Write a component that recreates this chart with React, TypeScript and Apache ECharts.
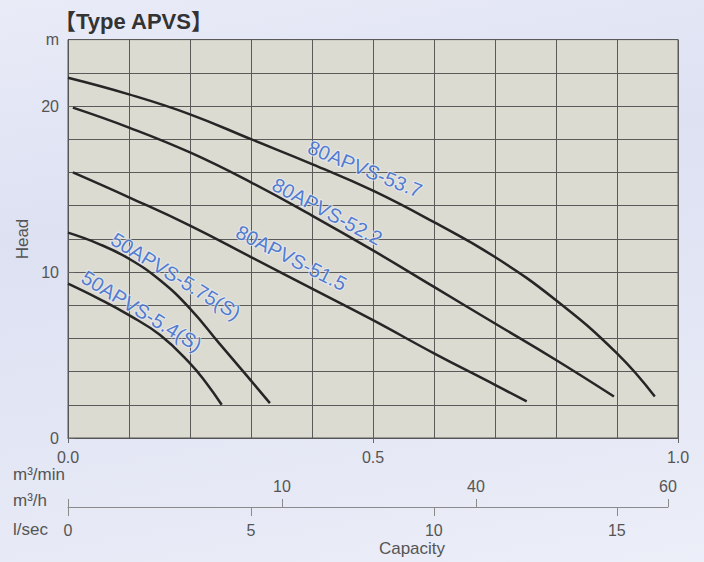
import React, { useEffect, useRef } from "react";
import * as echarts from "echarts";

// ---- data ----
const curveNames = ["80APVS-53.7", "80APVS-52.2", "80APVS-51.5", "50APVS-5.75(S)", "50APVS-5.4(S)"];

// capacity in m³/min, head in m
const flow537 = [0, 0.1, 0.2, 0.3, 0.4, 0.5, 0.6, 0.7, 0.8, 0.9, 0.962];
const head537 = [21.7, 20.7, 19.5, 18.0, 16.5, 14.9, 13.0, 10.9, 8.3, 5.1, 2.5];

const flow522 = [0.008, 0.1, 0.2, 0.3, 0.4, 0.5, 0.6, 0.7, 0.8, 0.895];
const head522 = [19.9, 18.7, 17.2, 15.4, 13.4, 11.3, 9.1, 6.9, 4.7, 2.5];

const flow515 = [0.008, 0.1, 0.2, 0.3, 0.4, 0.5, 0.6, 0.7, 0.752];
const head515 = [16.0, 14.5, 12.8, 10.9, 9.0, 7.1, 5.1, 3.2, 2.2];

const flow575 = [0, 0.05, 0.1, 0.151, 0.2, 0.248, 0.292, 0.331];
const head575 = [12.37, 11.7, 10.8, 9.5, 7.8, 5.7, 3.8, 2.1];

const flow54 = [0, 0.05, 0.1, 0.151, 0.2, 0.227, 0.252];
const head54 = [9.3, 8.4, 7.4, 6.2, 4.5, 3.3, 2.0];

const curveFlows = [flow537, flow522, flow515, flow575, flow54];
const curveHeads = [head537, head522, head515, head575, head54];

// label anchors (data coords) and their slope angles
const labelFlow = [0.487, 0.425, 0.366, 0.177, 0.121];
const labelHead = [16.2, 13.65, 10.85, 9.75, 7.65];
const labelAngle = [22, 28, 27, 31.6, 31.3];

// axes
const flowLabelTicks = [0, 0.5, 1.0]; // m³/min
const headLabelTicks = [0, 10, 20]; // m
const headUnitValue = 24;
const m3hTickPos = [0, 21.4, 40.8, 60];
const m3hTickText = ["", "10", "40", "60"];
const lsecTicks = [0, 5, 10, 15];

const FONT = '"Liberation Sans", Arial, Helvetica, sans-serif';

export default function App() {
  const ref = useRef<HTMLDivElement>(null);

  useEffect(() => {
    if (!ref.current) return;
    const chart = echarts.init(ref.current, undefined, { renderer: "svg" });

    const lineSeries = curveNames.map((name, i) => ({
      name,
      type: "line",
      xAxisIndex: 0,
      yAxisIndex: 0,
      data: curveFlows[i].map((f, j) => [f, curveHeads[i][j]]),
      smooth: 0.45,
      showSymbol: false,
      symbol: "none",
      lineStyle: { color: "#262626", width: 2.5 },
      silent: true,
      z: 3,
    }));

    const labelSeries = {
      type: "scatter",
      xAxisIndex: 0,
      yAxisIndex: 0,
      symbolSize: 0,
      silent: true,
      z: 4,
      data: curveNames.map((name, i) => ({
        name,
        value: [labelFlow[i], labelHead[i]],
        label: { rotate: -labelAngle[i] },
      })),
      label: {
        show: true,
        position: "inside",
        formatter: (p: any) => p.name,
        color: "#2b5fc6",
        fontFamily: FONT,
        fontSize: 20,
        textBorderColor: "rgba(235,238,250,0.85)",
        textBorderWidth: 2,
      },
    };

    const isHalf = (v: number) => flowLabelTicks.some((t) => Math.abs(t - v) < 1e-6);

    const option: any = {
      animation: false,
      backgroundColor: "transparent",
      textStyle: { fontFamily: FONT },
      grid: [
        {
          left: 68,
          top: 39.6,
          width: 610,
          height: 398.4,
          show: true,
          backgroundColor: "#dcdbd2",
          borderColor: "#5a5a5a",
          borderWidth: 1,
          containLabel: false,
        },
        {
          left: 68,
          top: 506,
          width: 600,
          height: 1,
          show: false,
          containLabel: false,
        },
      ],
      xAxis: [
        {
          type: "value",
          gridIndex: 0,
          min: 0,
          max: 1,
          interval: 0.1,
          position: "bottom",
          axisLine: { show: true, lineStyle: { color: "#555", width: 1 } },
          axisTick: { show: false },
          splitLine: { show: true, lineStyle: { color: "#5a5a5a", width: 1 } },
          axisLabel: {
            show: true,
            margin: 11,
            color: "#555",
            fontSize: 16,
            fontFamily: FONT,
            formatter: (v: number) => (isHalf(v) ? v.toFixed(1) : ""),
          },
        },
        {
          type: "value",
          gridIndex: 0,
          min: 0,
          max: 1,
          position: "bottom",
          axisLine: { show: false },
          axisLabel: { show: false },
          splitLine: { show: false },
          axisTick: {
            show: true,
            customValues: flowLabelTicks,
            length: 5,
            lineStyle: { color: "#666" },
          },
        },
        {
          type: "value",
          gridIndex: 1,
          min: 0,
          max: 60,
          position: "top",
          axisLine: { show: true, lineStyle: { color: "#8a8a8a", width: 1 } },
          splitLine: { show: false },
          axisTick: {
            show: true,
            customValues: m3hTickPos,
            length: 8,
            lineStyle: { color: "#8a8a8a" },
          },
          axisLabel: {
            show: true,
            customValues: m3hTickPos,
            margin: 12,
            color: "#555",
            fontSize: 16,
            fontFamily: FONT,
            formatter: (v: number) => {
              const k = m3hTickPos.findIndex((t) => Math.abs(t - v) < 1e-6);
              return k >= 0 ? m3hTickText[k] : "";
            },
          },
        },
        {
          type: "value",
          gridIndex: 1,
          min: 0,
          max: 16.4,
          position: "bottom",
          axisLine: { show: false },
          splitLine: { show: false },
          axisTick: {
            show: true,
            customValues: lsecTicks,
            length: 9,
            lineStyle: { color: "#8a8a8a" },
          },
          axisLabel: {
            show: true,
            customValues: lsecTicks,
            margin: 15,
            color: "#555",
            fontSize: 16,
            fontFamily: FONT,
            formatter: (v: number) => String(v),
          },
        },
      ],
      yAxis: [
        {
          type: "value",
          gridIndex: 0,
          min: 0,
          max: 24,
          interval: 2,
          axisLine: { show: true, lineStyle: { color: "#555", width: 1 } },
          axisTick: { show: false },
          splitLine: { show: true, lineStyle: { color: "#5a5a5a", width: 1 } },
          axisLabel: {
            show: true,
            margin: 9,
            color: "#555",
            fontSize: 16,
            fontFamily: FONT,
            formatter: (v: number) =>
              v === headUnitValue ? "m" : headLabelTicks.includes(v) ? String(v) : "",
          },
        },
        {
          type: "value",
          gridIndex: 0,
          min: 0,
          max: 24,
          axisLine: { show: false },
          axisLabel: { show: false },
          splitLine: { show: false },
          axisTick: {
            show: true,
            customValues: headLabelTicks,
            length: 6,
            lineStyle: { color: "#666" },
          },
        },
        {
          type: "value",
          gridIndex: 1,
          min: 0,
          max: 1,
          show: false,
        },
      ],
      graphic: [
        {
          type: "text",
          x: 54,
          y: 21,
          style: {
            text: "【Type APVS】",
            font: 'bold 22px "Liberation Sans", Arial, "Noto Sans CJK JP", sans-serif',
            fill: "#333",
            verticalAlign: "middle",
          },
        },
        {
          type: "text",
          x: 13,
          y: 474,
          style: { text: "m³/min", font: `17px ${FONT}`, fill: "#555", verticalAlign: "middle" },
        },
        {
          type: "text",
          x: 13,
          y: 500,
          style: { text: "m³/h", font: `17px ${FONT}`, fill: "#555", verticalAlign: "middle" },
        },
        {
          type: "text",
          x: 13,
          y: 529,
          style: { text: "l/sec", font: `17px ${FONT}`, fill: "#555", verticalAlign: "middle" },
        },
        {
          type: "text",
          x: 412,
          y: 548,
          style: {
            text: "Capacity",
            font: `17px ${FONT}`,
            fill: "#555",
            align: "center",
            verticalAlign: "middle",
          },
        },
        {
          type: "text",
          x: 22,
          y: 239,
          rotation: Math.PI / 2,
          style: {
            text: "Head",
            font: `17px ${FONT}`,
            fill: "#555",
            align: "center",
            verticalAlign: "middle",
          },
        },
      ],
      series: [...lineSeries, labelSeries],
    };

    chart.setOption(option);
    return () => chart.dispose();
  }, []);

  return (
    <div
      ref={ref}
      style={{
        position: "absolute",
        left: 0,
        top: 0,
        width: 704,
        height: 562,
        background:
          "linear-gradient(170deg, #e9ebf7 0%, #dde1f2 35%, #e3e6f4 65%, #eceef8 100%)",
      }}
    />
  );
}
